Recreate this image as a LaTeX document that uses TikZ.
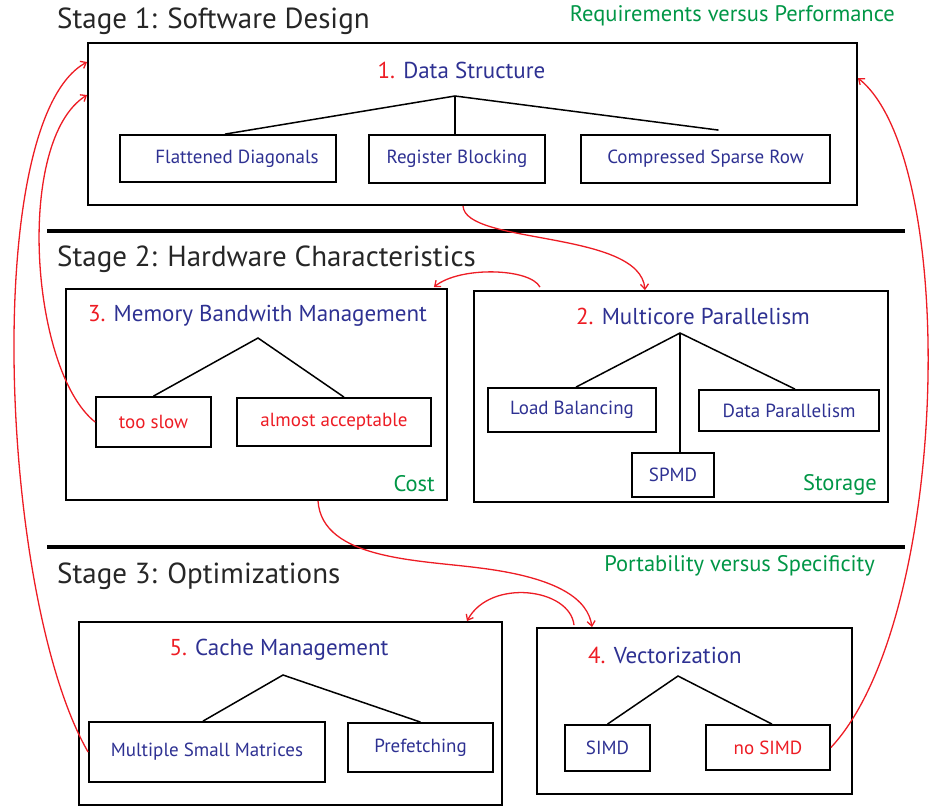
\documentclass[tikz,border=0pt]{standalone}
\usepackage{fontspec}
\setmainfont{PT Sans}
\usetikzlibrary{arrows.meta}
\definecolor{tblue}{RGB}{46,49,146}
\definecolor{tred}{RGB}{237,28,36}
\definecolor{tgreen}{RGB}{0,150,70}
\tikzset{
  leaf/.style={draw=black, line width=1.8pt, text=tblue, font=\fontsize{19}{21}\selectfont, inner sep=0pt},
  redleaf/.style={leaf, text=tred},
  bigbox/.style={draw=black, line width=1.8pt},
  ttl/.style={text=tblue, font=\fontsize{23}{26}\selectfont, inner sep=0pt},
  stage/.style={anchor=west, text=black!85, font=\fontsize{29}{32}\selectfont, inner sep=0pt},
  grn/.style={text=tgreen, font=\fontsize{22.5}{25}\selectfont, inner sep=0pt},
  tree/.style={draw=black, line width=1.5pt},
  sep/.style={draw=black, line width=3.5pt},
  redarr/.style={draw=tred, line width=1.3pt, -{Straight Barb[length=5pt,width=8pt]}}
}
\begin{document}
\begin{tikzpicture}[x=1pt,y=-1pt]
\useasboundingbox (0,0) rectangle (931,808);

% Stage headings and notes
\node[stage] (s1) at (57,21) {Stage 1: Software Design};
\node[grn, anchor=east] (n1) at (895,16) {Requirements versus Performance};
\node[stage] (s2) at (57,259) {Stage 2: Hardware Characteristics};
\node[stage] (s3) at (57,576) {Stage 3: Optimizations};
\node[grn, anchor=east] (n3) at (875,566) {Portability versus Specificity};

% separators
\coordinate (l1a) at (47,231); \coordinate (l1b) at (905,231);
\coordinate (l2a) at (47,547); \coordinate (l2b) at (905,547);
\draw[sep] (l1a) -- (l1b);
\draw[sep] (l2a) -- (l2b);

% Stage 1 box
\node[bigbox, minimum width=769pt, minimum height=162pt] (box1) at (472.5,124) {};
\node[ttl] (t1) at (461.5,70) {\textcolor{tred}{1.} Data Structure};
\coordinate (a1) at (455,96);
\node[leaf, minimum width=216pt, minimum height=47pt] (fd) at (228,158.5) {\hspace*{18pt}Flattened Diagonals};
\node[leaf, minimum width=176pt, minimum height=48pt] (rb) at (457,159) {Register Blocking};
\node[leaf, minimum width=249pt, minimum height=48pt] (csr) at (705.5,159) {Compressed Sparse Row};
\draw[tree] ([xshift=-3pt]fd.north) -- (a1) -- ([xshift=13pt, yshift=4pt]csr.north);
\draw[tree] (a1) -- (a1 |- rb.north);

% Stage 2: Memory box
\node[bigbox, minimum width=381pt, minimum height=211pt] (box3) at (256.5,394.5) {};
\node[ttl] (t3) at (257.5,316) {\textcolor{tred}{3.} Memory Bandwith Management};
\coordinate (a3) at (258,338);
\node[redleaf, minimum width=115pt, minimum height=50pt] (slow) at (153.5,422) {too slow};
\node[redleaf, minimum width=194pt, minimum height=48pt] (acc) at (334,422) {almost acceptable};
\draw[tree] (slow.north) -- (a3) -- ([xshift=10pt]acc.north);
\node[grn, anchor=east] (cost) at (435,484) {Cost};

% Stage 2: Multicore box
\node[bigbox, minimum width=414pt, minimum height=211pt] (box2) at (681,396.5) {};
\node[ttl] (t2) at (693,316) {\textcolor{tred}{2.} Multicore Parallelism};
\coordinate (a2) at (680,333);
\node[leaf, minimum width=168pt, minimum height=44pt] (lb) at (572,410) {Load Balancing};
\node[leaf, minimum width=180pt, minimum height=41pt] (dp) at (789,410.5) {Data Parallelism};
\node[leaf, minimum width=82pt, minimum height=44pt] (spmd) at (673,475) {SPMD};
\draw[tree] ([xshift=4pt]lb.north) -- (a2) -- ([xshift=6pt]dp.north);
\draw[tree] (a2) -- (a2 |- spmd.north);
\node[grn, anchor=east] (stor) at (877,485) {Storage};

% Stage 3: Cache box
\node[bigbox, minimum width=423pt, minimum height=183pt] (box5) at (290.5,713.5) {};
\node[ttl] (t5) at (279,650) {\textcolor{tred}{5.} Cache Management};
\coordinate (a5) at (283,675);
\node[leaf, minimum width=236pt, minimum height=60pt] (msm) at (207,752) {Multiple Small Matrices};
\node[leaf, minimum width=145pt, minimum height=49pt] (pf) at (420.5,747.5) {Prefetching};
\draw[tree] ([xshift=-4pt]msm.north) -- (a5) -- (pf.north);

% Stage 3: Vectorization box
\node[bigbox, minimum width=315pt, minimum height=166pt] (box4) at (694.5,711) {};
\node[ttl] (t4) at (665,655) {\textcolor{tred}{4.} Vectorization};
\coordinate (a4) at (678,676);
\node[leaf, minimum width=85pt, minimum height=46pt] (simd) at (607.5,748) {SIMD};
\node[redleaf, minimum width=124pt, minimum height=45pt] (nosimd) at (768,747.5) {no SIMD};
\draw[tree] (simd.north) -- (a4) -- ([xshift=4pt]nosimd.north);

% Red arrows
\draw[redarr] ([xshift=-9.5pt]box1.south) .. controls (465,245) and (640,230) .. ([xshift=-36pt]box2.north);
\draw[redarr] ([xshift=-141pt, yshift=3pt]box2.north) .. controls (530,268) and (460,266) .. ([xshift=-14pt, yshift=1pt]box3.north east);
\draw[redarr] (slow.west) .. controls (30,370) and (15,140) .. ([yshift=29pt]box1.west);
\draw[redarr] (msm.west) .. controls (0,600) and (-20,120) .. ([yshift=62pt]box1.west);
\draw[redarr] (nosimd.east) .. controls (950,620) and (960,160) .. ([yshift=46pt]box1.east);
\draw[redarr] ([xshift=61.5pt]box3.south) .. controls (322,560) and (420,560) .. (480,568) .. controls (560,578) and (588,600) .. ([xshift=-102.5pt]box4.north);
\draw[redarr] ([xshift=-120.5pt, yshift=2pt]box4.north) .. controls (570,588) and (490,578) .. ([xshift=176.5pt]box5.north);
\end{tikzpicture}
\end{document}
